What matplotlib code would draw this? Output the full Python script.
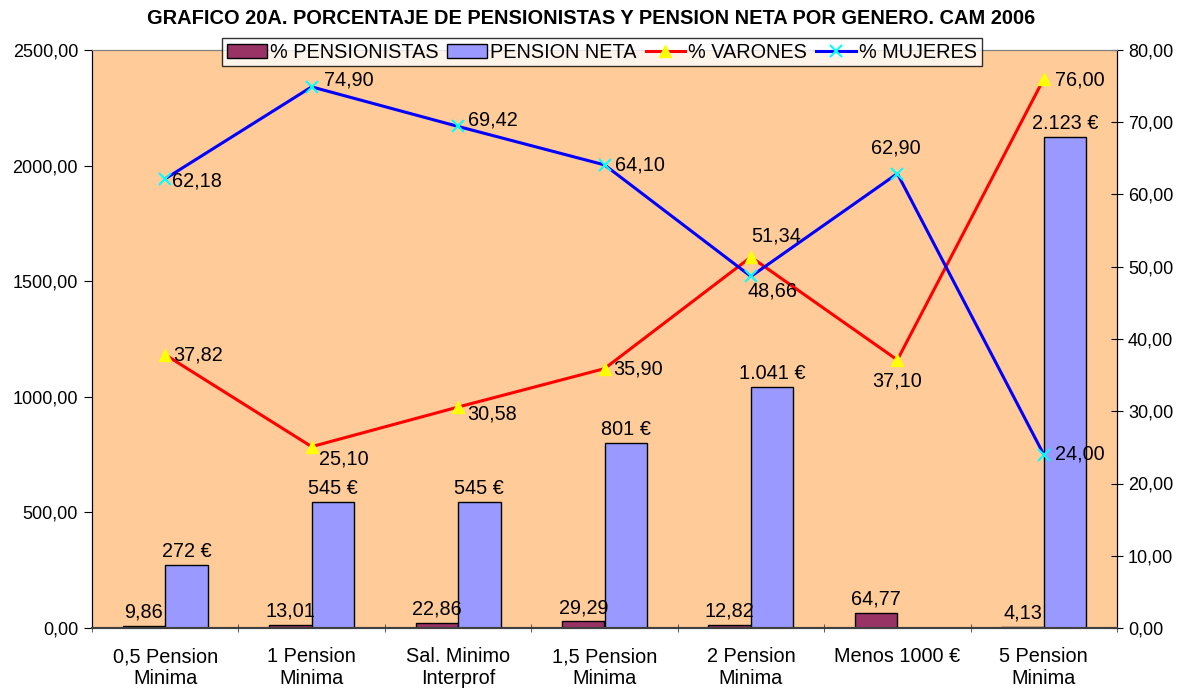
import matplotlib
matplotlib.use("Agg")
import matplotlib.pyplot as plt
import numpy as np
from matplotlib.patches import Patch
from matplotlib.lines import Line2D

categories = ["0,5 Pension\nMinima", "1 Pension\nMinima", "Sal. Minimo\nInterprof",
              "1,5 Pension\nMinima", "2 Pension\nMinima", "Menos 1000 €", "5 Pension\nMinima"]
pct_pensionistas = [9.86, 13.01, 22.86, 29.29, 12.82, 64.77, 4.13]
pension_neta = [272, 545, 545, 801, 1041, np.nan, 2123]
pct_varones = [37.82, 25.10, 30.58, 35.90, 51.34, 37.10, 76.00]
pct_mujeres = [62.18, 74.90, 69.42, 64.10, 48.66, 62.90, 24.00]
left_ticks = [0, 500, 1000, 1500, 2000, 2500]
right_ticks = [0, 10, 20, 30, 40, 50, 60, 70, 80]
title = "GRAFICO 20A. PORCENTAJE DE PENSIONISTAS Y PENSION NETA POR GENERO. CAM 2006"

plt.rcParams['font.family'] = ['Liberation Sans', 'DejaVu Sans']
FS_TICK = 13
FS = 14.3

def fmt2(v):
    return f"{v:.2f}".replace(".", ",")

def fmt_eur(v):
    return f"{int(round(v)):,}".replace(",", ".") + " €"

fig = plt.figure(figsize=(11.85, 6.89), dpi=100)
ax = fig.add_axes([92/1185, 61/689, 1025/1185, 578/689])
ax.set_facecolor("#FFCC99")
ax2 = ax.twinx()

x = np.arange(len(categories))
w = 0.29
ax.bar(x - w/2, pct_pensionistas, w, color="#993366", edgecolor="black", linewidth=1, zorder=2)
ax.bar(x + w/2, pension_neta, w, color="#9999FF", edgecolor="black", linewidth=1, zorder=2)

for xi, v in zip(x, pct_pensionistas):
    ax.annotate(fmt2(v), (xi - w/2, v), xytext=(0, 3), textcoords="offset points",
                ha="center", va="bottom", fontsize=FS, zorder=5)
for xi, v in zip(x, pension_neta):
    if np.isnan(v):
        continue
    ax.annotate(fmt_eur(v), (xi + w/2, v), xytext=(0, 3), textcoords="offset points",
                ha="center", va="bottom", fontsize=FS, zorder=5)

ax2.plot(x, pct_varones, color="#FF0000", linewidth=2.2, marker="^", markersize=9,
         markerfacecolor="#FFFF00", markeredgecolor="#FFFF00", zorder=3)
ax2.plot(x, pct_mujeres, color="#0000FF", linewidth=2.2, marker="x", markersize=8,
         markeredgecolor="#00FFFF", markeredgewidth=1.5, zorder=3)

# label offsets (pixels: dx, dy up) and alignment
var_pos = [("left", 8, 0), ("left", 7, -12), ("left", 9, -7), ("left", 9, 0),
           ("center", 25, 21), ("center", 0, -21), ("left", 11, -1)]
muj_pos = [("left", 7, -2), ("left", 12, 7), ("left", 10, 6), ("left", 10, 0),
           ("center", 22, -15), ("center", -2, 26), ("left", 11, 1)]
px2pt = 72 / 100
for vals, poss in ((pct_varones, var_pos), (pct_mujeres, muj_pos)):
    for xi, v, (ha, dx, dy) in zip(x, vals, poss):
        ax2.annotate(fmt2(v), (xi, v), xytext=(dx * px2pt, dy * px2pt),
                     textcoords="offset points", ha=ha, va="center", fontsize=FS, zorder=6)

ax.set_xlim(-0.5, len(categories) - 0.5)
ax.set_ylim(0, 2500)
ax2.set_ylim(0, 80)
ax.set_yticks(left_ticks)
ax.set_yticklabels([fmt2(t) for t in left_ticks], fontsize=FS_TICK)
ax2.set_yticks(right_ticks)
ax2.set_yticklabels([fmt2(t) for t in right_ticks], fontsize=FS_TICK)

ax.set_xticks(x)
ax.set_xticklabels(categories, fontsize=FS, linespacing=1.2)
ax.tick_params(axis="x", length=0, pad=14)
ax.set_xticks(np.arange(-0.5, len(categories), 1.0), minor=True)
ax.tick_params(axis="x", which="minor", length=6, direction="inout", color="#404040")
ax.tick_params(axis="y", length=6, direction="out", pad=4)
ax2.tick_params(axis="y", length=8, direction="inout", pad=4)

for a in (ax, ax2):
    a.spines["top"].set_color("#808080")
    a.spines["bottom"].set_color("#404040")
    a.spines["left"].set_color("black")
    a.spines["right"].set_color("black")
    a.spines["bottom"].set_linewidth(1.5)

handles = [Patch(facecolor="#993366", edgecolor="black"),
           Patch(facecolor="#9999FF", edgecolor="black"),
           Line2D([], [], color="#FF0000", linewidth=2.2, marker="^", markersize=9,
                  markerfacecolor="#FFFF00", markeredgecolor="#FFFF00"),
           Line2D([], [], color="#0000FF", linewidth=2.2, marker="x", markersize=8,
                  markeredgecolor="#00FFFF", markeredgewidth=1.5)]
labels = ["% PENSIONISTAS", "PENSION NETA", "% VARONES", "% MUJERES"]
leg = fig.legend(handles, labels, loc="center", bbox_to_anchor=(602/1185, 1 - 52/689),
                 ncol=4, fontsize=FS, frameon=True, fancybox=False, edgecolor="black",
                 handlelength=2.0, handletextpad=0.15, columnspacing=0.45,
                 borderpad=0.25, borderaxespad=0)
leg.get_frame().set_linewidth(1)
leg.set_zorder(10)

fig.text(591/1185, 1 - 18/689, title, ha="center", va="center", fontsize=14.4, fontweight="bold")

fig.savefig("out.png", dpi=100)
